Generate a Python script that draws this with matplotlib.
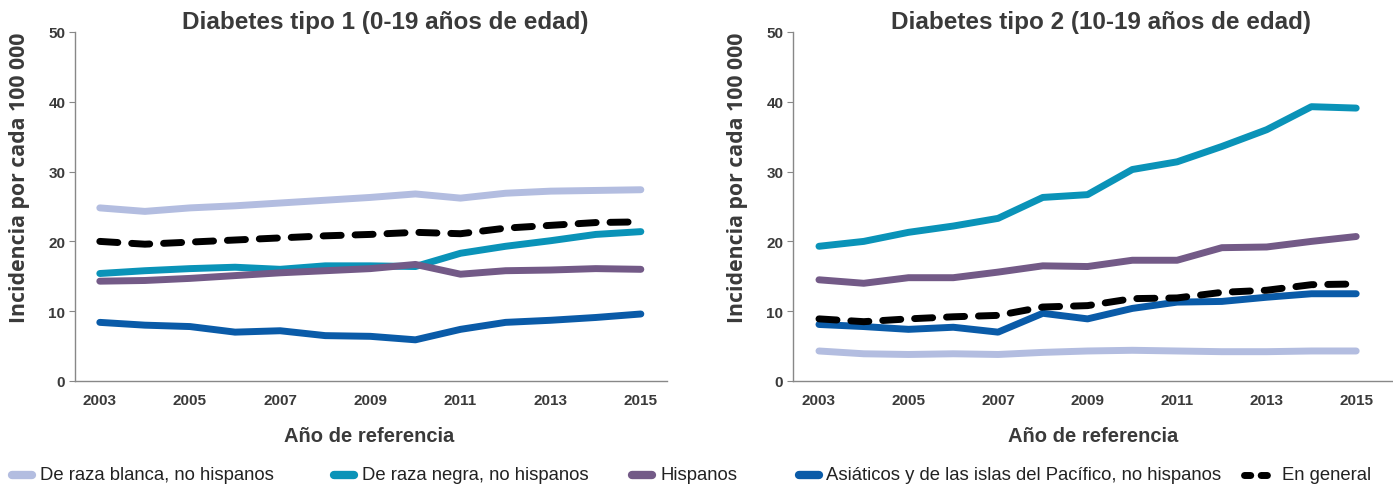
import matplotlib
matplotlib.use("Agg")
import matplotlib.pyplot as plt
from matplotlib import font_manager as fm
from matplotlib.lines import Line2D

years = list(range(2003, 2016))
series_names = ["De raza blanca, no hispanos", "De raza negra, no hispanos", "Hispanos",
                "Asiáticos y de las islas del Pacífico, no hispanos", "En general"]

t1_white = [24.8, 24.3, 24.8, 25.1, 25.5, 25.9, 26.3, 26.8, 26.2, 26.9, 27.2, 27.3, 27.4]
t1_black = [15.4, 15.8, 16.1, 16.3, 16.0, 16.5, 16.5, 16.4, 18.3, 19.3, 20.1, 21.0, 21.4]
t1_hisp = [14.3, 14.4, 14.7, 15.1, 15.5, 15.8, 16.1, 16.7, 15.3, 15.8, 15.9, 16.1, 16.0]
t1_asian = [8.4, 8.0, 7.8, 7.0, 7.2, 6.5, 6.4, 5.9, 7.4, 8.4, 8.7, 9.1, 9.6]
t1_overall = [20.0, 19.6, 19.9, 20.2, 20.5, 20.8, 21.0, 21.3, 21.1, 21.9, 22.3, 22.7, 22.8]

t2_white = [4.3, 3.9, 3.8, 3.9, 3.8, 4.1, 4.3, 4.4, 4.3, 4.2, 4.2, 4.3, 4.3]
t2_black = [19.3, 20.0, 21.3, 22.2, 23.3, 26.3, 26.7, 30.3, 31.4, 33.6, 36.0, 39.3, 39.1]
t2_hisp = [14.5, 14.0, 14.8, 14.8, 15.6, 16.5, 16.4, 17.3, 17.3, 19.1, 19.2, 20.0, 20.7]
t2_asian = [8.1, 7.8, 7.4, 7.7, 7.0, 9.7, 8.9, 10.4, 11.3, 11.4, 12.0, 12.5, 12.5]
t2_overall = [8.9, 8.5, 8.9, 9.2, 9.4, 10.6, 10.8, 11.8, 11.9, 12.7, 13.0, 13.8, 13.9]

titles = ["Diabetes tipo 1 (0-19 años de edad)", "Diabetes tipo 2 (10-19 años de edad)"]
xticks = [2003, 2005, 2007, 2009, 2011, 2013, 2015]
yticks = [0, 10, 20, 30, 40, 50]
xlabel = "Año de referencia"
ylabel = "Incidencia por cada 100 000"

colors = ["#b3bde0", "#0a93b8", "#735a87", "#0a5ba8", "#000000"]

avail = {f.name for f in fm.fontManager.ttflist}
main = "Liberation Sans" if "Liberation Sans" in avail else "DejaVu Sans"
wide = "Open Sans" if "Open Sans" in avail else "DejaVu Sans"
plt.rcParams['font.family'] = [main, 'DejaVu Sans']

fig = plt.figure(figsize=(13.93, 4.89), dpi=100)
W, H = 1393, 489
# (left px, right px, xlim0, xlim1, ylabel x, title center, xlabel center)
axes_px = [(75, 667, 2002.45, 2015.58, 20, 385, 369),
           (793, 1392, 2002.42, 2015.8, 737, 1101, 1093)]
data = [[t1_white, t1_black, t1_hisp, t1_asian, t1_overall],
        [t2_white, t2_black, t2_hisp, t2_asian, t2_overall]]
txtc = "#3a3a3a"
for i, (x0, x1, xl0, xl1, ylx, tcx, xlcx) in enumerate(axes_px):
    ax = fig.add_axes([x0 / W, 1 - 382 / H, (x1 - x0) / W, (382 - 33) / H])
    for j, vals in enumerate(data[i]):
        if j == 4:
            ax.plot(years, vals, color=colors[j], lw=5, ls=(0, (2.6, 2.0)),
                    dash_capstyle='round', solid_joinstyle='round', zorder=3)
        else:
            ax.plot(years, vals, color=colors[j], lw=5, solid_capstyle='round',
                    solid_joinstyle='round', zorder=2)
    ax.set_xlim(xl0, xl1)
    ax.set_ylim(0, 50)
    ax.set_xticks(xticks)
    ax.set_yticks(yticks)
    ax.set_xticklabels([str(x) for x in xticks], fontsize=11, fontweight='bold', color=txtc)
    ax.set_yticklabels([str(y) for y in yticks], fontsize=11, fontweight='bold', color=txtc)
    ax.tick_params(axis='x', length=0, pad=9)
    ax.tick_params(axis='y', length=4, width=0.8, color='#888888', pad=3)
    for s in ['top', 'right']:
        ax.spines[s].set_visible(False)
    for s in ['left', 'bottom']:
        ax.spines[s].set_color('#888888')
        ax.spines[s].set_linewidth(1.0)
    ax.set_facecolor('none')
    fig.text(tcx / W, 1 - 23 / H, titles[i], ha='center', va='center',
             fontsize=17.5, fontweight='bold', color=txtc)
    fig.text(xlcx / W, 1 - 437 / H, xlabel, ha='center', va='center',
             fontsize=14.5, fontweight='bold', color=txtc)
    fig.text(ylx / W, 1 - 178 / H, ylabel, ha='center', va='center', rotation=90,
             fontsize=15.3, fontweight='bold', color=txtc, family=[wide, 'DejaVu Sans'])

# legend (manual placement)
leg_y = 1 - 476 / H
handle_x = [(12, 32), (334, 354), (632, 652), (799, 819), (1244, 1270)]
text_x = [40, 362, 660, 826, 1282]
for j in range(5):
    hx0, hx1 = handle_x[j]
    if j == 4:
        ln = Line2D([hx0 / W, hx1 / W], [leg_y, leg_y], transform=fig.transFigure,
                    color=colors[j], lw=5, ls=(0, (0.9, 1.5)), dash_capstyle='round')
    else:
        ln = Line2D([hx0 / W, hx1 / W], [leg_y, leg_y], transform=fig.transFigure,
                    color=colors[j], lw=6, solid_capstyle='round')
    fig.add_artist(ln)
    fig.text(text_x[j] / W, leg_y, series_names[j], ha='left', va='center',
             fontsize=13.3, color='#222222')

fig.savefig("out.png", dpi=100)
